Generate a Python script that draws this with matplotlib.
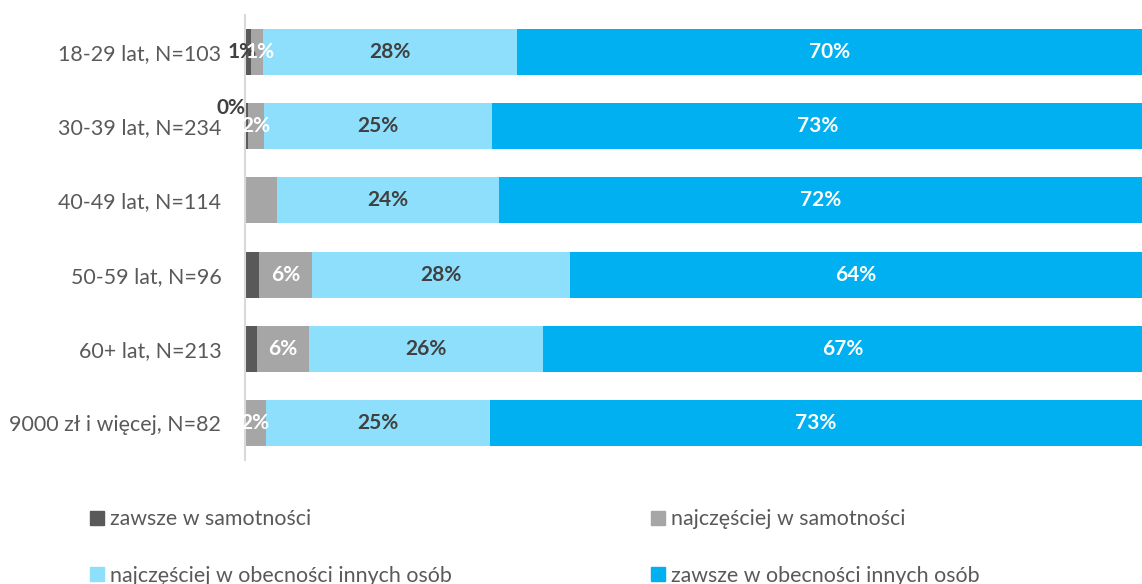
import numpy as np
from matplotlib import pyplot as plt
from matplotlib.patches import Patch

plt.rcParams['font.family'] = ['Lato', 'DejaVu Sans']

groups = ['18-29 lat, N=103', '30-39 lat, N=234', '40-49 lat, N=114',
          '50-59 lat, N=96', '60+ lat, N=213', '9000 zł i więcej, N=82']
series = ['zawsze w samotności', 'najczęściej w samotności',
          'najczęściej w obecności innych osób', 'zawsze w obecności innych osób']
zawsze_sam = [0.7, 0.3, 0.0, 1.6, 1.3, 0.0]
najczesciej_sam = [1.3, 1.8, 3.6, 5.9, 5.8, 2.3]
najczesciej_inni = [28.3, 25.4, 24.7, 28.7, 26.1, 25.0]
zawsze_inni = [69.7, 72.6, 71.7, 63.8, 66.8, 72.7]
# labels shown on the bars (None = no label)
labels_zs = ['1%', '0%', None, None, None, None]
labels_ns = ['1%', '2%', None, '6%', '6%', '2%']
labels_ni = ['28%', '25%', '24%', '28%', '26%', '25%']
labels_zi = ['70%', '73%', '72%', '64%', '67%', '73%']

colors = ['#595959', '#a6a6a6', '#8ddffc', '#00b0f0']
txtcol = ['#404040', 'white', '#404040', 'white']

fig = plt.figure(figsize=(11.42, 5.84), dpi=100)
ax = fig.add_axes([0.2145, 0.2123, 0.7855, 0.7620])

data = [zawsze_sam, najczesciej_sam, najczesciej_inni, zawsze_inni]
labs = [labels_zs, labels_ns, labels_ni, labels_zi]
y = np.arange(len(groups))
left = np.zeros(len(groups))
for k in range(4):
    vals = np.array(data[k])
    ax.barh(y, vals, left=left, height=0.62, color=colors[k], label=series[k])
    for i in range(len(groups)):
        t = labs[k][i]
        if t is None:
            continue
        xc = left[i] + vals[i] / 2
        yc = y[i]
        if k == 0 and i == 0:
            xc = -0.3
        if k == 1 and i == 0:
            xc = 1.7
        if k == 0 and i == 1:
            xc, yc = -1.6, y[i] - 0.25
        ax.text(xc, yc, t, ha='center', va='center', color=txtcol[k],
                fontsize=15, fontweight='bold')
    left += vals

ax.set_xlim(0, 100)
ax.set_ylim(5.5, -0.5)
ax.set_yticks(y)
ax.set_yticklabels(groups, fontsize=15.4, color='#595959')
ax.set_xticks([])
ax.tick_params(axis='y', length=0, pad=17)
for s in ['top', 'right', 'bottom']:
    ax.spines[s].set_visible(False)
ax.spines['left'].set_color('#d9d9d9')
ax.spines['left'].set_linewidth(1.5)

# legend filled row by row like the original
order = [0, 2, 1, 3]
handles = [Patch(color=colors[j]) for j in order]
names = [series[j] for j in order]
fig.legend(handles, names, loc='lower left', bbox_to_anchor=(0.062, -0.036),
           ncol=2, frameon=False, fontsize=15.4, labelcolor='#595959',
           handlelength=0.65, handleheight=0.65, handletextpad=0.3,
           columnspacing=9.3, labelspacing=1.7)

fig.savefig('out.png', dpi=100)
